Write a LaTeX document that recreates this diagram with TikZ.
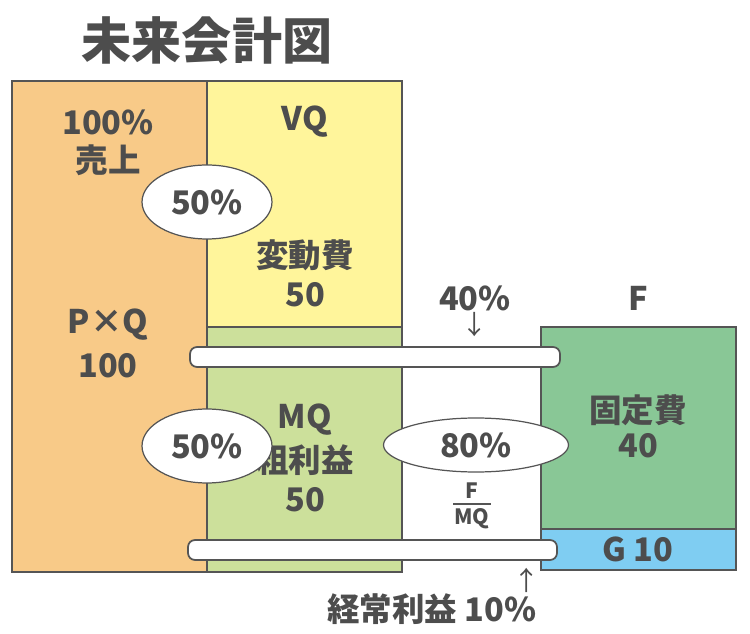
\documentclass[tikz,border=0pt]{standalone}
\usepackage{fontspec}
\setmainfont{Noto Sans CJK JP}
\usepackage{xcolor}
\usepackage{tikz}
\usetikzlibrary{shapes.geometric,positioning}

\definecolor{ink}{HTML}{4D4D4D}
\definecolor{edge}{HTML}{555555}
\definecolor{uriage}{HTML}{F8CA88}
\definecolor{henhi}{HTML}{FFF59B}
\definecolor{arari}{HTML}{CCE09B}
\definecolor{koteihi}{HTML}{89C796}
\definecolor{rieki}{HTML}{7FCDF2}

\begin{document}
\begin{tikzpicture}[x=0.02cm, y=-0.02cm,
      box/.style={draw=edge, line width=1.1pt},
      bar/.style={draw=edge, fill=white, line width=1pt, rounded corners=4pt},
      oval/.style={draw=edge, fill=white, ellipse, line width=0.7pt, inner sep=0pt},
      lbl/.style={text=ink, font=\fontsize{18.5}{22}\selectfont\bfseries, inner sep=0pt},
      small/.style={text=ink, font=\fontsize{12}{14}\selectfont\bfseries, inner sep=0pt},
      pointer/.style={text=ink, font=\fontsize{15}{18}\selectfont, inner sep=0pt}
    ]
    \useasboundingbox (0,0) rectangle (750,634);

    \node[text=ink, font=\fontsize{28.5}{32}\selectfont\bfseries] (title) at (207,40) {未来会計図};

    \fill[uriage] (12,81) rectangle (207,572);
    \fill[henhi] (207,81) rectangle (402,327);
    \fill[arari] (207,327) rectangle (402,572);
    \draw[box] (207,81) -- (207,572);
    \draw[box] (207,327) -- (402,327);
    \draw[box] (12,81) rectangle (402,572);

    \fill[koteihi] (541,327) rectangle (736,529);
    \fill[rieki] (541,529) rectangle (736,570);
    \draw[box] (541,529) -- (736,529);
    \draw[box] (541,327) rectangle (736,570);

    \draw[bar] (190,347) rectangle (560,367);
    \draw[bar] (188,540) rectangle (557,560);

    \node[lbl] (pct) at (108,122) {100\%};
    \node[lbl] (sales) at (108,160) {売上};
    \node[lbl] (vq) at (305,122) {VQ};
    \node[lbl] (vc) at (305,255) {変動費};
    \node[lbl] (vcnum) at (305,295) {50};
    \node[lbl] (pq) at (108,325) {P×Q};
    \node[lbl] (pqnum) at (108,366) {100};
    \node[lbl] (mq) at (305,420) {MQ};
    \node[lbl] (gp) at (305,460) {粗利益};
    \node[lbl] (gpnum) at (305,500) {50};
    \node[lbl] (fpct) at (475,298) {40\%};
    \node[pointer] (down) at (475,325) {↓};
    \node[lbl] (f) at (638,298) {F};
    \node[lbl] (fc) at (638,410) {固定費};
    \node[lbl] (fcnum) at (638,446) {40};
    \node[lbl] (g) at (638,549) {G 10};
    \node[pointer] (up) at (527,580) {↑};
    \node[lbl] (op) at (432,609) {経常利益 10\%};

    \node[small] (num) at (472,491) {F};
    \node[small] (den) at (472,519) {MQ};
    \draw[edge, line width=1.2pt] (453,504) -- (491,504);

    \node[oval, lbl, minimum width=2.6cm, minimum height=1.48cm] (r1) at (207,202) {50\%};
    \node[oval, lbl, minimum width=2.6cm, minimum height=1.48cm] (r2) at (207,446) {50\%};
    \node[oval, lbl, minimum width=3.7cm, minimum height=1.08cm] (r3) at (476,445) {80\%};
  \end{tikzpicture}
\end{document}
